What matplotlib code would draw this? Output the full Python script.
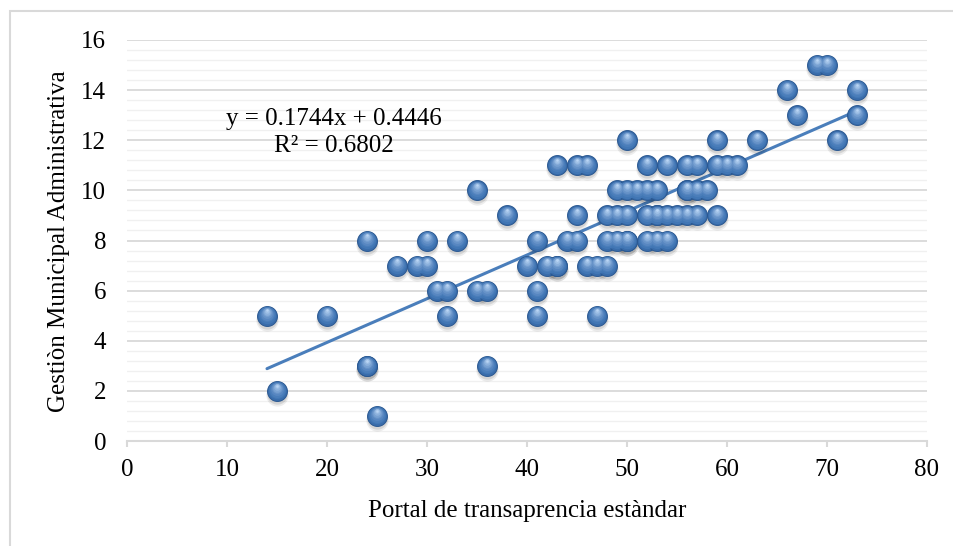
import matplotlib
matplotlib.use("Agg")
import matplotlib.pyplot as plt
import matplotlib.transforms as mtransforms
from matplotlib.patches import Rectangle
from matplotlib.ticker import MultipleLocator
from matplotlib.colors import to_rgb
import numpy as np

# ---- data ----
x_vals = [14, 15, 20, 24, 24, 24, 25, 27, 29, 30, 30, 33, 31, 32, 32, 35, 36, 36, 35, 38,
          40, 41, 41, 41, 42, 43, 43, 43, 45, 46, 44, 45, 45, 46, 47, 48, 47,
          48, 49, 50, 50, 52, 53, 54,
          48, 49, 50, 52, 53, 53, 54, 55, 56, 57, 59,
          49, 50, 51, 52, 53, 56, 56, 57, 58,
          50, 52, 54, 56, 57, 59, 60, 61,
          59, 63, 66, 67, 69, 70, 71, 73, 73]
y_vals = [5, 2, 5, 8, 3, 3, 1, 7, 7, 7, 8, 8, 6, 6, 5, 6, 6, 3, 10, 9,
          7, 8, 6, 5, 7, 7, 7, 11, 11, 11, 8, 8, 9, 7, 7, 7, 5,
          8, 8, 8, 8, 8, 8, 8,
          9, 9, 9, 9, 9, 9, 9, 9, 9, 9, 9,
          10, 10, 10, 10, 10, 10, 10, 10, 10,
          12, 11, 11, 11, 11, 11, 11, 11,
          12, 12, 14, 13, 15, 15, 12, 14, 13]
slope = 0.1744
intercept = 0.4446
r_squared = 0.6802
x_label = "Portal de transaprencia estàndar"
y_label = "Gestiòn Municipal Administrativa"
x_ticks = [0, 10, 20, 30, 40, 50, 60, 70, 80]
y_ticks = [0, 2, 4, 6, 8, 10, 12, 14, 16]

plt.rcParams['font.family'] = ['Liberation Serif', 'DejaVu Serif']
FS = 18

W, H = 954, 546
fig = plt.figure(figsize=(W / 100, H / 100), dpi=100)
fig.patches.append(Rectangle((10 / W, -0.1), 1.2, 1 - 11 / H + 0.1,
                             transform=fig.transFigure, fill=False,
                             edgecolor='#d9d9d9', linewidth=1.5, zorder=0))
ax = fig.add_axes([127 / W, 1 - 441 / H, 800 / W, 401 / H])
ax.set_xlim(0, 80)
ax.set_ylim(0, 16)
ax.set_xticks(x_ticks)
ax.set_yticks(y_ticks)
ax.yaxis.set_minor_locator(MultipleLocator(0.4))

ax.grid(axis='y', which='major', color='#d9d9d9', linewidth=1.3, zorder=0)
ax.grid(axis='y', which='minor', color='#f0f0f0', linewidth=1.0, zorder=0)
ax.set_axisbelow(True)
for s in ['top', 'right', 'left']:
    ax.spines[s].set_visible(False)
ax.spines['bottom'].set_color('#d9d9d9')
ax.spines['bottom'].set_linewidth(1.5)
ax.tick_params(axis='x', which='major', direction='out', length=4, width=1.5,
               color='#d9d9d9', labelsize=FS, pad=9)
ax.tick_params(axis='y', which='both', length=0, labelsize=FS, pad=15)

# trend line
xl = np.array([min(x_vals), max(x_vals)])
ax.plot(xl, slope * xl + intercept, color='#4a7ebb', linewidth=2.2, zorder=2,
        solid_capstyle='round')

# sphere-like markers
s0 = 205
def off(dx, dy):
    return mtransforms.offset_copy(ax.transData, fig=fig, x=dx, y=dy, units='dots')

ax.scatter(x_vals, y_vals, s=s0 * 1.25, color='black', alpha=0.07, linewidths=0,
           transform=off(0, -4), zorder=3)
ax.scatter(x_vals, y_vals, s=s0 * 1.05, color='black', alpha=0.10, linewidths=0,
           transform=off(0, -3), zorder=3)
ax.scatter(x_vals, y_vals, s=s0, color='#3a6dab', edgecolors='#2a5891', linewidths=0.7,
           transform=off(0, 0), zorder=4)
c0 = np.array(to_rgb('#3e73b3'))
c1 = np.array(to_rgb('#b9d5f4'))
n = 8
for i in range(n):
    t = (i + 1) / n
    frac = 1 - 0.88 * t
    col = c0 + (c1 - c0) * t ** 1.6
    ax.scatter(x_vals, y_vals, s=s0 * frac ** 2 * 0.95, color=col, linewidths=0,
               transform=off(0, 5.2 * t), zorder=5 + i * 0.1)

ax.text(20.7, 12.61, f"y = {slope}x + {intercept}", ha='center', va='baseline',
        fontsize=FS, zorder=8)
ax.text(20.7, 11.53, f"R² = {r_squared}", ha='center', va='baseline',
        fontsize=FS, zorder=8)

fig.text(527 / W, 1 - 517 / H, x_label, ha='center', va='baseline', fontsize=FS)
fig.text(59 / W, 1 - 241.5 / H, y_label, ha='center', va='center', fontsize=FS,
         rotation=90)

fig.savefig('out.png', dpi=100)
